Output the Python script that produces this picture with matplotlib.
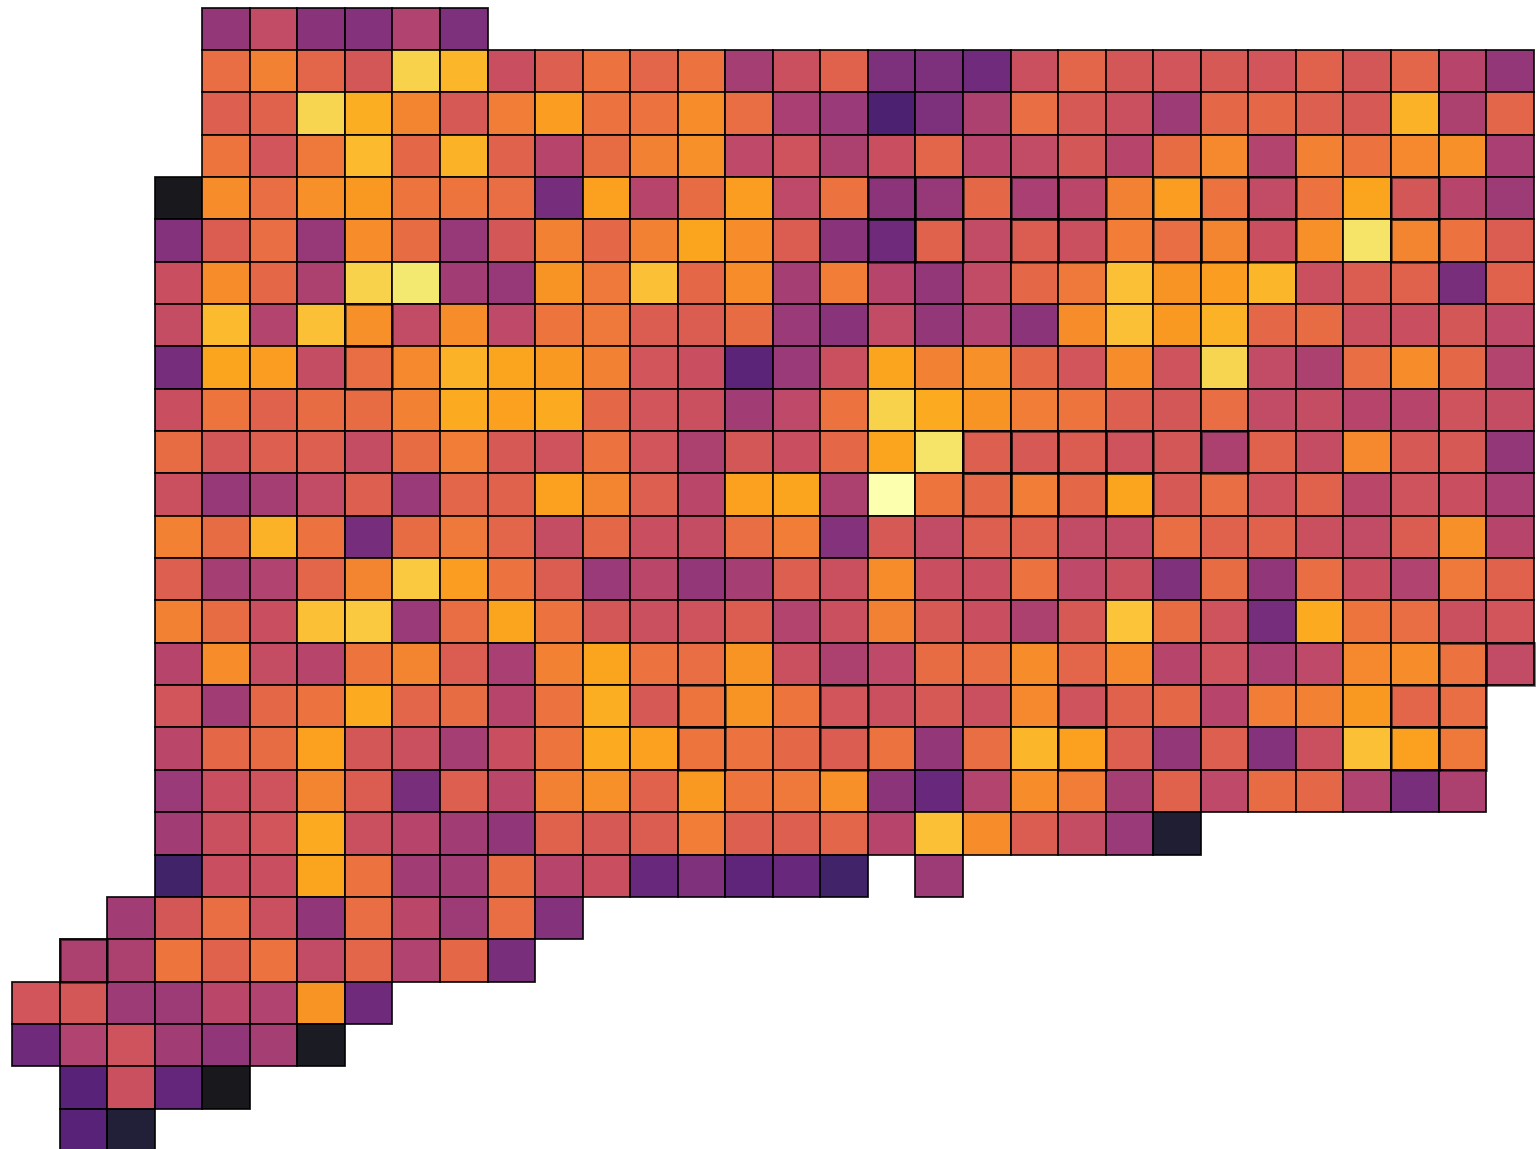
import matplotlib
matplotlib.use("Agg")
import matplotlib.pyplot as plt
from matplotlib.colors import Normalize

row_starts = [4, 4, 4, 4, 3, 3, 3, 3, 3, 3, 3, 3, 3, 3, 3, 3, 3, 3, 3, 3, 3, 2, 1, 0, 0, 1, 1]

r00 = [37, 50, 34, 33, 45, 31]
r01 = [64, 69, 61, 56, 88, 82, 52, 59, 65, 61, 65, 42, 53, 60, 31, 31, 28, 53, 61, 56, 55, 57, 55, 60, 56, 61, 47, 37]
r02 = [59, 60, 89, 80, 70, 57, 68, 76, 65, 65, 72, 64, 43, 39, 18, 31, 44, 64, 57, 53, 40, 62, 62, 59, 57, 81, 44, 61]
r03 = [66, 55, 67, 83, 62, 81, 60, 47, 63, 69, 73, 49, 54, 44, 52, 61, 47, 50, 56, 47, 63, 71, 46, 69, 65, 71, 73, 43]
r04 = [0, 72, 64, 73, 75, 66, 66, 64, 29, 77, 47, 63, 76, 49, 65, 35, 38, 62, 43, 48, 69, 76, 65, 50, 65, 78, 56, 47, 40]
r05 = [33, 58, 64, 38, 72, 63, 38, 56, 69, 62, 69, 78, 72, 58, 34, 27, 60, 50, 58, 53, 68, 64, 70, 52, 73, 92, 70, 65, 58]
r06 = [52, 72, 62, 44, 88, 93, 41, 38, 74, 67, 84, 62, 72, 42, 68, 47, 37, 50, 62, 67, 84, 74, 76, 82, 53, 58, 60, 30, 60]
r07 = [51, 83, 46, 84, 73, 50, 72, 49, 66, 67, 58, 58, 63, 39, 34, 50, 37, 45, 35, 72, 84, 75, 81, 62, 63, 53, 52, 56, 49]
r08 = [29, 78, 76, 51, 64, 71, 81, 78, 75, 69, 55, 52, 22, 39, 53, 78, 69, 73, 62, 55, 72, 54, 89, 50, 44, 64, 72, 62, 46]
r09 = [52, 66, 60, 63, 63, 69, 79, 77, 79, 62, 55, 53, 41, 49, 65, 88, 79, 74, 68, 66, 59, 56, 64, 50, 51, 47, 47, 54, 51]
r10 = [63, 56, 59, 59, 51, 63, 68, 57, 54, 65, 55, 44, 56, 52, 62, 78, 92, 59, 57, 58, 54, 56, 44, 60, 51, 71, 57, 57, 37]
r11 = [53, 38, 42, 50, 59, 39, 61, 60, 77, 70, 59, 48, 77, 78, 44, 100, 66, 62, 68, 62, 78, 57, 64, 54, 60, 48, 54, 52, 43]
r12 = [69, 63, 81, 65, 29, 63, 67, 61, 51, 62, 52, 51, 64, 68, 33, 57, 50, 59, 60, 50, 50, 64, 60, 60, 53, 50, 58, 73, 47]
r13 = [59, 42, 45, 61, 70, 86, 76, 65, 58, 39, 48, 37, 42, 59, 53, 72, 52, 52, 65, 49, 53, 32, 63, 36, 64, 52, 45, 67, 60]
r14 = [69, 63, 52, 84, 86, 39, 64, 78, 65, 56, 53, 54, 58, 46, 53, 69, 57, 52, 44, 57, 85, 63, 54, 29, 79, 66, 64, 53, 55]
r15 = [47, 72, 51, 47, 66, 70, 58, 43, 69, 78, 65, 64, 74, 53, 44, 49, 63, 64, 72, 61, 71, 47, 54, 43, 49, 71, 72, 65, 50]
r16 = [55, 41, 62, 65, 79, 61, 63, 47, 65, 80, 57, 66, 74, 66, 55, 53, 57, 53, 71, 54, 60, 62, 47, 68, 69, 75, 61, 64]
r17 = [48, 62, 63, 77, 56, 53, 42, 52, 66, 79, 77, 66, 65, 62, 58, 65, 37, 64, 82, 77, 59, 37, 59, 33, 53, 84, 77, 67]
r18 = [39, 52, 54, 70, 58, 30, 59, 48, 69, 73, 60, 75, 66, 67, 73, 35, 25, 46, 72, 68, 42, 60, 49, 63, 62, 45, 30, 44]
r19 = [41, 53, 55, 79, 53, 47, 41, 36, 60, 57, 58, 68, 59, 59, 61, 47, 84, 72, 58, 51, 39, 5]
r20 = [15, 52, 52, 78, 65, 41, 41, 63, 47, 52, 25, 32, 23, 25, 15, None, 40]
r21 = [41, 56, 64, 53, 36, 64, 48, 40, 64, 33]
r22 = [44, 44, 66, 60, 65, 50, 61, 45, 62, 30]
r23 = [55, 56, 40, 40, 48, 45, 74, 27]
r24 = [27, 45, 54, 41, 36, 42, 2]
r25 = [21, 53, 24, 0]
r26 = [21, 6]

rows = [r00, r01, r02, r03, r04, r05, r06, r07, r08, r09, r10, r11, r12, r13,
        r14, r15, r16, r17, r18, r19, r20, r21, r22, r23, r24, r25, r26]

# cells drawn with a heavier outline in the reference: (row, column)
heavy = [(4, 18), (4, 19), (4, 21), (4, 22), (4, 24), (4, 25), (4, 26), (4, 29),
         (5, 18), (5, 19), (5, 21), (5, 22), (5, 24), (5, 25), (5, 26), (5, 29),
         (7, 7), (8, 7),
         (10, 20), (10, 21), (10, 22), (10, 23), (10, 25),
         (11, 20), (11, 21), (11, 22), (11, 23),
         (15, 30), (15, 31), (16, 14), (16, 17), (16, 22), (16, 29), (16, 30),
         (17, 14), (17, 17), (17, 22), (17, 29), (17, 30), (22, 1)]

W, H = 1538, 1149
cell_w, cell_h = 47.55, 42.35
x0, y0 = 12, 7.5

fig = plt.figure(figsize=(W / 100, H / 100), dpi=100)
ax = fig.add_axes([0, 0, 1, 1])
cmap = plt.get_cmap("inferno")
norm = Normalize(0, 100)

for r, (start, vals) in enumerate(zip(row_starts, rows)):
    xs = [start + i for i, v in enumerate(vals) if v is not None]
    vs = [v for v in vals if v is not None]
    ax.bar(xs, [1] * len(xs), width=1, bottom=r, align="edge",
           color=cmap(norm(vs)), alpha=0.9, edgecolor="black", linewidth=1.3)

for r, c in heavy:
    ax.bar([c], [1], width=1, bottom=r, align="edge", facecolor="none",
           edgecolor="black", linewidth=2.0, alpha=0.55, zorder=3)

ax.set_xlim(-x0 / cell_w, (W - x0) / cell_w)
ax.set_ylim((H - y0) / cell_h, -y0 / cell_h)
ax.axis("off")
fig.savefig("out.png", dpi=100, facecolor="white")
